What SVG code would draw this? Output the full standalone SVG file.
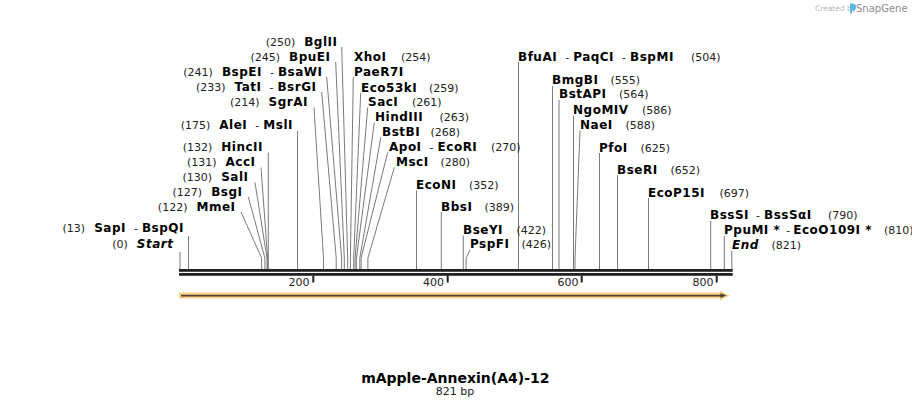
<svg xmlns="http://www.w3.org/2000/svg" width="912" height="408" viewBox="0 0 912 408">
<style>
text{font-family:"DejaVu Sans","Verdana",sans-serif;font-size:11px;fill:#222}
.b{font-weight:bold;font-size:12px;letter-spacing:0.5px;fill:#000}
.i{font-weight:bold;font-style:italic;font-size:12px;letter-spacing:0.5px;fill:#000}
.cl{fill:none;stroke:#7a7a7a;stroke-width:1}
.tk{font-size:11px;fill:#222}
</style>
<rect width="912" height="408" fill="#fff"/>
<g id="logo">
<text x="815" y="10.5" style="font-size:7.5px;fill:#b4b4b4">Created by</text>
<path d="M850,3.5 h2.5 a3.5,3.5 0 0 1 0,7 h-0.5 v3 h-2 z" fill="#5ab4e6"/>
<text x="856" y="11.5" style="font-size:10px;fill:#8c8c8c">SnapGene</text>
</g>
<g id="connectors">
<polyline class="cl" points="180,252 180,269"/>
<polyline class="cl" points="188.5,236 188.5,269"/>
<polyline class="cl" points="241,212 261.6,258 261.6,269"/>
<polyline class="cl" points="248.3,197 264.9,258 264.9,269"/>
<polyline class="cl" points="255,182.5 267,258 267,269"/>
<polyline class="cl" points="261,167.5 267.6,258 267.6,269"/>
<polyline class="cl" points="268.3,152.5 268.3,269"/>
<polyline class="cl" points="297.5,131 297.5,269"/>
<polyline class="cl" points="314,107.5 323.5,258 323.5,269"/>
<polyline class="cl" points="321.7,92 336.2,258 336.2,269"/>
<polyline class="cl" points="326.7,77 341.6,258 341.6,269"/>
<polyline class="cl" points="335.7,62 344.3,258 344.3,269"/>
<polyline class="cl" points="341.7,47 347.7,258 347.7,269"/>
<polyline class="cl" points="353.3,77 350.4,258 350.4,269"/>
<polyline class="cl" points="360.7,93 353.7,258 353.7,269"/>
<polyline class="cl" points="367.7,107.5 355.1,258 355.1,269"/>
<polyline class="cl" points="374.3,122.5 356.4,258 356.4,269"/>
<polyline class="cl" points="380.7,137.5 359.8,258 359.8,269"/>
<polyline class="cl" points="387.7,152.5 361.1,258 361.1,269"/>
<polyline class="cl" points="394.3,167.5 367.9,258 367.9,269"/>
<polyline class="cl" points="416.5,190.5 416.5,269"/>
<polyline class="cl" points="441.3,212 441.3,269"/>
<polyline class="cl" points="463.3,235.5 463.3,269"/>
<polyline class="cl" points="470,250 466.1,258 466.1,269"/>
<polyline class="cl" points="518.5,62 518.5,269"/>
<polyline class="cl" points="552.5,86 552.5,269"/>
<polyline class="cl" points="559,100 559,269"/>
<polyline class="cl" points="573.5,115.5 573.5,269"/>
<polyline class="cl" points="580,130.5 575,258 575,269"/>
<polyline class="cl" points="599.5,153 599.5,269"/>
<polyline class="cl" points="617.5,175.5 617.5,269"/>
<polyline class="cl" points="648.5,198 648.5,269"/>
<polyline class="cl" points="710.7,221 710.7,269"/>
<polyline class="cl" points="724.3,236 724.3,269"/>
<polyline class="cl" points="731.8,250.5 731.8,269"/>
</g>
<g id="sequence">
<rect x="179" y="269" width="553.7" height="2.8" fill="#222"/>
<rect x="179" y="273" width="553.7" height="2.8" fill="#222"/>
<rect x="312.3" y="275.5" width="2" height="7" fill="#222"/>
<rect x="446.7" y="275.5" width="2" height="7" fill="#222"/>
<rect x="580.7" y="275.5" width="2" height="7" fill="#222"/>
<rect x="715.7" y="275.5" width="2" height="7" fill="#222"/>
<text class="tk" x="309.5" y="286" text-anchor="end">200</text>
<text class="tk" x="444" y="286" text-anchor="end">400</text>
<text class="tk" x="578.5" y="286" text-anchor="end">600</text>
<text class="tk" x="713.5" y="286" text-anchor="end">800</text>
</g>
<g id="feature">
<polygon points="179,292.6 720,292.6 720,290.8 729.6,295.6 720,300.4 720,298.6 179,298.6" fill="#fdcf85"/>
<polygon points="181,294.8 720.5,294.8 720.5,293.2 726.5,295.6 720.5,298 720.5,296.4 181,296.4" fill="#4b4038"/>
</g>
<g id="label-start"><text x="173.5" y="247.7" text-anchor="end"><tspan>(0)</tspan><tspan class="i" dx="9">Start</tspan></text></g>
<g id="label-sapi"><text x="184" y="232.3" text-anchor="end"><tspan>(13)</tspan><tspan class="b" dx="9">SapI</tspan><tspan dx="8">-</tspan><tspan class="b" dx="4">BspQI</tspan></text></g>
<g id="label-mmei"><text x="235.5" y="210.7" text-anchor="end"><tspan>(122)</tspan><tspan class="b" dx="9">MmeI</tspan></text></g>
<g id="label-bsgi"><text x="242.5" y="195.7" text-anchor="end"><tspan>(127)</tspan><tspan class="b" dx="9">BsgI</tspan></text></g>
<g id="label-sali"><text x="248.5" y="181" text-anchor="end"><tspan>(130)</tspan><tspan class="b" dx="9">SalI</tspan></text></g>
<g id="label-acci"><text x="255.5" y="166" text-anchor="end"><tspan>(131)</tspan><tspan class="b" dx="9">AccI</tspan></text></g>
<g id="label-hincii"><text x="263" y="151" text-anchor="end"><tspan>(132)</tspan><tspan class="b" dx="9">HincII</tspan></text></g>
<g id="label-alei"><text x="293" y="129.3" text-anchor="end"><tspan>(175)</tspan><tspan class="b" dx="9">AleI</tspan><tspan dx="8">-</tspan><tspan class="b" dx="4">MslI</tspan></text></g>
<g id="label-sgrai"><text x="308" y="106" text-anchor="end"><tspan>(214)</tspan><tspan class="b" dx="9">SgrAI</tspan></text></g>
<g id="label-tati"><text x="316.5" y="90.7" text-anchor="end"><tspan>(233)</tspan><tspan class="b" dx="9">TatI</tspan><tspan dx="8">-</tspan><tspan class="b" dx="4">BsrGI</tspan></text></g>
<g id="label-bspei"><text x="322.5" y="75.7" text-anchor="end"><tspan>(241)</tspan><tspan class="b" dx="9">BspEI</tspan><tspan dx="8">-</tspan><tspan class="b" dx="4">BsaWI</tspan></text></g>
<g id="label-bpuei"><text x="330.5" y="60.7" text-anchor="end"><tspan>(245)</tspan><tspan class="b" dx="9">BpuEI</tspan></text></g>
<g id="label-bglii"><text x="337.5" y="46" text-anchor="end"><tspan>(250)</tspan><tspan class="b" dx="9">BglII</tspan></text></g>
<g id="label-xhoi"><text y="61"><tspan class="b" x="354">XhoI</tspan><tspan x="401">(254)</tspan></text></g>
<g id="label-paer7i"><text y="75.7"><tspan class="b" x="354">PaeR7I</tspan></text></g>
<g id="label-eco53ki"><text y="91.7"><tspan class="b" x="361">Eco53kI</tspan><tspan x="429">(259)</tspan></text></g>
<g id="label-saci"><text y="106"><tspan class="b" x="368">SacI</tspan><tspan x="412">(261)</tspan></text></g>
<g id="label-hindiii"><text y="121"><tspan class="b" x="375">HindIII</tspan><tspan x="439.5">(263)</tspan></text></g>
<g id="label-bstbi"><text y="136"><tspan class="b" x="382">BstBI</tspan><tspan x="430.5">(268)</tspan></text></g>
<g id="label-apoi"><text y="151"><tspan class="b" x="389">ApoI</tspan><tspan dx="8">-</tspan><tspan class="b" dx="4">EcoRI</tspan><tspan x="491">(270)</tspan></text></g>
<g id="label-msci"><text y="166"><tspan class="b" x="396">MscI</tspan><tspan x="440.5">(280)</tspan></text></g>
<g id="label-econi"><text y="189"><tspan class="b" x="416">EcoNI</tspan><tspan x="469">(352)</tspan></text></g>
<g id="label-bbsi"><text y="210.7"><tspan class="b" x="441">BbsI</tspan><tspan x="484.5">(389)</tspan></text></g>
<g id="label-bseyi"><text y="234"><tspan class="b" x="463">BseYI</tspan><tspan x="516.5">(422)</tspan></text></g>
<g id="label-pspfi"><text y="248.3"><tspan class="b" x="470">PspFI</tspan><tspan x="521.5">(426)</tspan></text></g>
<g id="label-bfuai"><text y="60.7"><tspan class="b" x="518">BfuAI</tspan><tspan dx="8">-</tspan><tspan class="b" dx="4">PaqCI</tspan><tspan dx="8">-</tspan><tspan class="b" dx="4">BspMI</tspan><tspan x="691">(504)</tspan></text></g>
<g id="label-bmgbi"><text y="84.3"><tspan class="b" x="552">BmgBI</tspan><tspan x="610.5">(555)</tspan></text></g>
<g id="label-bstapi"><text y="98.3"><tspan class="b" x="559">BstAPI</tspan><tspan x="619">(564)</tspan></text></g>
<g id="label-ngomiv"><text y="114"><tspan class="b" x="573">NgoMIV</tspan><tspan x="642">(586)</tspan></text></g>
<g id="label-naei"><text y="129"><tspan class="b" x="580">NaeI</tspan><tspan x="625.5">(588)</tspan></text></g>
<g id="label-pfoi"><text y="151.7"><tspan class="b" x="599">PfoI</tspan><tspan x="640.5">(625)</tspan></text></g>
<g id="label-bseri"><text y="174"><tspan class="b" x="617">BseRI</tspan><tspan x="670.5">(652)</tspan></text></g>
<g id="label-ecop15i"><text y="196.7"><tspan class="b" x="648">EcoP15I</tspan><tspan x="719.5">(697)</tspan></text></g>
<g id="label-bsssi"><text y="219.3"><tspan class="b" x="710">BssSI</tspan><tspan dx="7">-</tspan><tspan class="b" dx="4">BssSαI</tspan><tspan x="828">(790)</tspan></text></g>
<g id="label-ppumi"><text y="234.3"><tspan class="b" x="724">PpuMI *</tspan><tspan dx="6">-</tspan><tspan class="b" dx="3">EcoO109I *</tspan><tspan x="884">(810)</tspan></text></g>
<g id="label-end"><text y="249"><tspan class="i" x="732">End</tspan><tspan x="771.5">(821)</tspan></text></g>
<g id="title">
<text x="455.3" y="382.5" text-anchor="middle" style="font-size:14px;font-weight:bold;fill:#000">mApple-Annexin(A4)-12</text>
<text x="455" y="395" text-anchor="middle" style="font-size:11px;fill:#222">821 bp</text>
</g>
</svg>
